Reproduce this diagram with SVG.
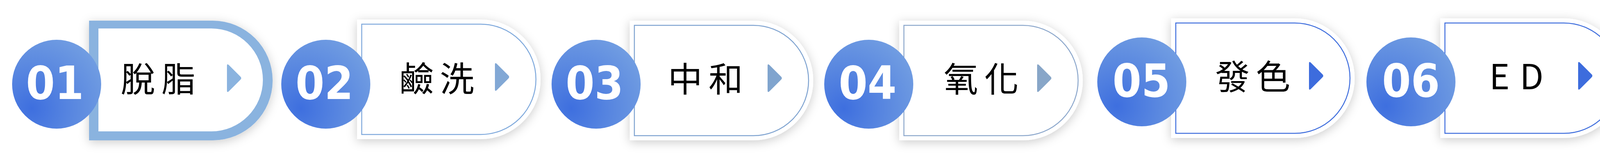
<svg xmlns="http://www.w3.org/2000/svg" xmlns:xlink="http://www.w3.org/1999/xlink" width="4927" height="413" viewBox="0 0 4927 413">
<defs>
<filter id="shadow" x="-20%" y="-30%" width="140%" height="160%">
<feDropShadow dx="0" dy="5" stdDeviation="13" flood-color="#000" flood-opacity="0.2"/>
</filter>
<radialGradient id="ball" cx="0.22" cy="0.77" r="0.95" fx="0.22" fy="0.77" gradientUnits="objectBoundingBox">
<stop offset="0" stop-color="#3E6FDF"/>
<stop offset="0.5" stop-color="#5A88E0"/>
<stop offset="1" stop-color="#74A0E2"/>
</radialGradient>
<path id="outerShape" d="M0 0 H316.5 A153.5 153.5 0 0 1 316.5 307 H0 Z"/>
<path id="innerShape" d="M12 12 H316.5 A141.5 141.5 0 0 1 316.5 295 H12 Z"/>
<path id="arrowShape" d="M353 116 Q353 109 358 114 L386 142 Q393 147.5 386 153 L358 181 Q353 186 353 179 Z"/>
</defs>
<style>
.outer{fill:#ffffff;filter:url(#shadow)}
.inner{fill:none;stroke-width:2.5}
.ball{fill:url(#ball)}
.label{font-family:"Noto Sans CJK TC","Noto Sans CJK SC",sans-serif;font-size:88px;letter-spacing:16px;fill:#000;text-anchor:middle}
.num{font-family:"DejaVu Sans Condensed","DejaVu Sans",sans-serif;font-stretch:condensed;font-weight:bold;font-size:118px;fill:#fff;text-anchor:middle}
</style>
<g id="connectors"></g>

<g id="step-01" transform="translate(228,53)">
<use xlink:href="#outerShape" fill="#8AB3DF" style="filter:url(#shadow)"/>
<path d="M24 20 H313 A132 132 0 0 1 313 284 H24 Z" fill="#ffffff"/>
<use xlink:href="#arrowShape" fill="#8AB3DF"/>
<text class="label" x="185" y="182">脫脂</text>
<circle class="ball" cx="-83" cy="163" r="114"/>
<text class="num" x="-87.5" y="201" textLength="148" lengthAdjust="spacingAndGlyphs">01</text>
</g>

<g id="step-02" transform="translate(914,50)">
<use xlink:href="#outerShape" class="outer"/>
<use xlink:href="#innerShape" class="inner" stroke="#7FA9DC"/>
<use xlink:href="#arrowShape" fill="#82A8D5"/>
<text class="label" x="212" y="184">鹼洗</text>
<circle class="ball" cx="-80" cy="166" r="114"/>
<text class="num" x="-83.5" y="204" textLength="148" lengthAdjust="spacingAndGlyphs">02</text>
</g>

<g id="step-03" transform="translate(1612,53)">
<use xlink:href="#outerShape" class="outer"/>
<use xlink:href="#innerShape" class="inner" stroke="#7FA3D0"/>
<use xlink:href="#arrowShape" fill="#80A4CE"/>
<text class="label" x="202" y="182">中和</text>
<circle class="ball" cx="-86" cy="163" r="114"/>
<text class="num" x="-90" y="201" textLength="148" lengthAdjust="spacingAndGlyphs">03</text>
</g>

<g id="step-04" transform="translate(2302,53)">
<use xlink:href="#outerShape" class="outer"/>
<use xlink:href="#innerShape" class="inner" stroke="#8DA8CC"/>
<use xlink:href="#arrowShape" fill="#88A6C8"/>
<text class="label" x="218" y="182">氧化</text>
<circle class="ball" cx="-78" cy="163" r="114"/>
<text class="num" x="-81" y="201" textLength="148" lengthAdjust="spacingAndGlyphs">04</text>
</g>

<g id="step-05" transform="translate(2998,47)">
<use xlink:href="#outerShape" class="outer"/>
<use xlink:href="#innerShape" class="inner" stroke="#3F6EDD"/>
<use xlink:href="#arrowShape" fill="#3D6CDD"/>
<text class="label" x="217" y="182">發色</text>
<circle class="ball" cx="-75" cy="163" r="114"/>
<text class="num" x="-76" y="201" textLength="148" lengthAdjust="spacingAndGlyphs">05</text>
</g>

<g id="step-06" transform="translate(3687,47)">
<use xlink:href="#outerShape" class="outer"/>
<use xlink:href="#innerShape" class="inner" stroke="#3F6EDD"/>
<use xlink:href="#arrowShape" fill="#3D6CDD"/>
<text class="label" x="208" y="182" style="letter-spacing:26px">ED</text>
<circle class="ball" cx="-75" cy="163" r="114"/>
<text class="num" x="-75" y="201" textLength="148" lengthAdjust="spacingAndGlyphs">06</text>
</g>

<g id="step-07" transform="translate(4384,47)">
<use xlink:href="#outerShape" class="outer"/>
<use xlink:href="#innerShape" class="inner" stroke="#3F6EDD"/>
<text class="label" x="219" y="182">烘烤</text>
<circle class="ball" cx="-80" cy="163" r="114"/>
<text class="num" x="-79" y="201" textLength="148" lengthAdjust="spacingAndGlyphs">07</text>
</g>
</svg>
